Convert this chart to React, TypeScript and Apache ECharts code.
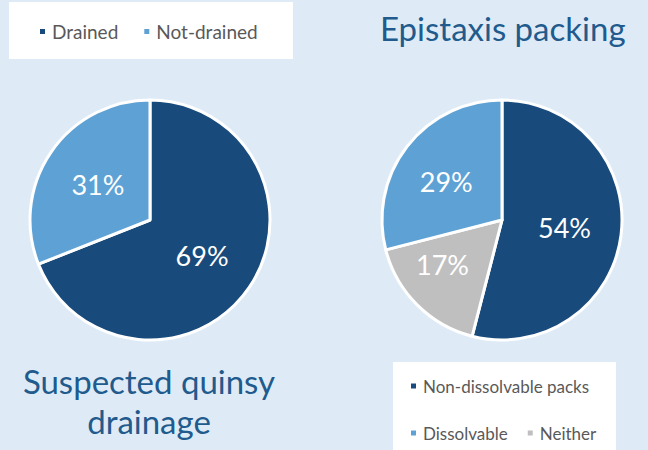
import React, { useEffect, useRef } from "react";
import * as echarts from "echarts";

const quinsyCategories = ["Drained", "Not-drained"];
const quinsyValues = [69, 31];
const epistaxisCategories = ["Non-dissolvable packs", "Neither", "Dissolvable"];
const epistaxisValues = [54, 17, 29];
const titleLeft = "Suspected quinsy\ndrainage";
const titleRight = "Epistaxis packing";

const DARK = "#184b7b";
const LIGHT = "#5ea2d5";
const GRAY = "#bfbfbf";
const TITLE = "#215a8c";
const FONT = "Lato";

export default function App() {
  const ref = useRef<HTMLDivElement>(null);
  useEffect(() => {
    const chart = echarts.init(ref.current!, null, { renderer: "svg" });
    const quinsyColors = [DARK, LIGHT];
    const epiColors = [DARK, GRAY, LIGHT];
    const epiPad: Record<string, number[]> = {
      Neither: [20, 30, 0, 0],
      Dissolvable: [0, 12, 10, 0],
    };
    const labelBase = {
      show: true,
      position: "inside",
      formatter: "{c}%",
      color: "#ffffff",
      fontSize: 27,
      fontFamily: FONT,
    };
    chart.setOption({
      animation: false,
      backgroundColor: "#deebf7",
      graphic: [
        { type: "rect", shape: { x: 9, y: 2, width: 284, height: 57 }, style: { fill: "#ffffff" }, z: 0 },
        { type: "rect", shape: { x: 393, y: 362, width: 223, height: 95 }, style: { fill: "#ffffff" }, z: 0 },
        {
          type: "text",
          x: 380,
          y: 11,
          style: { text: titleRight, fill: TITLE, fontSize: 33, fontFamily: FONT, textAlign: "left", textVerticalAlign: "top" },
        },
        {
          type: "text",
          x: 149,
          y: 361,
          style: {
            text: titleLeft,
            fill: TITLE,
            fontSize: 33,
            lineHeight: 40,
            fontFamily: FONT,
            textAlign: "center",
            textVerticalAlign: "top",
          },
        },
      ],
      legend: [
        {
          data: quinsyCategories,
          left: 38,
          top: 21,
          padding: 0,
          itemGap: 24,
          itemWidth: 7,
          itemHeight: 7,
          icon: "rect",
          textStyle: { fontSize: 19, fontFamily: FONT, color: "#595959", lineHeight: 21, padding: [0, 0, 0, 1] },
        },
        {
          data: ["Non-dissolvable packs"],
          left: 409,
          top: 376,
          padding: 0,
          itemWidth: 7,
          itemHeight: 7,
          icon: "rect",
          textStyle: { fontSize: 17, fontFamily: FONT, color: "#595959", lineHeight: 20, padding: [0, 0, 0, 1] },
        },
        {
          data: ["Dissolvable", "Neither"],
          left: 409,
          top: 423,
          padding: 0,
          itemGap: 18,
          itemWidth: 7,
          itemHeight: 7,
          icon: "rect",
          textStyle: { fontSize: 17, fontFamily: FONT, color: "#595959", lineHeight: 20, padding: [0, 0, 0, 1] },
        },
      ],
      series: [
        {
          type: "pie",
          center: [150, 220],
          radius: 120,
          startAngle: 90,
          clockwise: true,
          avoidLabelOverlap: false,
          itemStyle: { borderColor: "#ffffff", borderWidth: 3 },
          label: labelBase,
          labelLine: { show: false },
          emphasis: { disabled: true },
          data: quinsyCategories.map((n, i) => ({
            name: n,
            value: quinsyValues[i],
            itemStyle: { color: quinsyColors[i] },
          })),
        },
        {
          type: "pie",
          center: [502, 220],
          radius: 120,
          startAngle: 90,
          clockwise: true,
          avoidLabelOverlap: false,
          itemStyle: { borderColor: "#ffffff", borderWidth: 3 },
          label: labelBase,
          labelLine: { show: false },
          emphasis: { disabled: true },
          data: epistaxisCategories.map((n, i) => ({
            name: n,
            value: epistaxisValues[i],
            itemStyle: { color: epiColors[i] },
            label: epiPad[n] ? { padding: epiPad[n] } : undefined,
          })),
        },
      ],
    });
    return () => chart.dispose();
  }, []);
  return <div ref={ref} style={{ width: 648, height: 450, position: "absolute", left: 0, top: 0 }} />;
}
